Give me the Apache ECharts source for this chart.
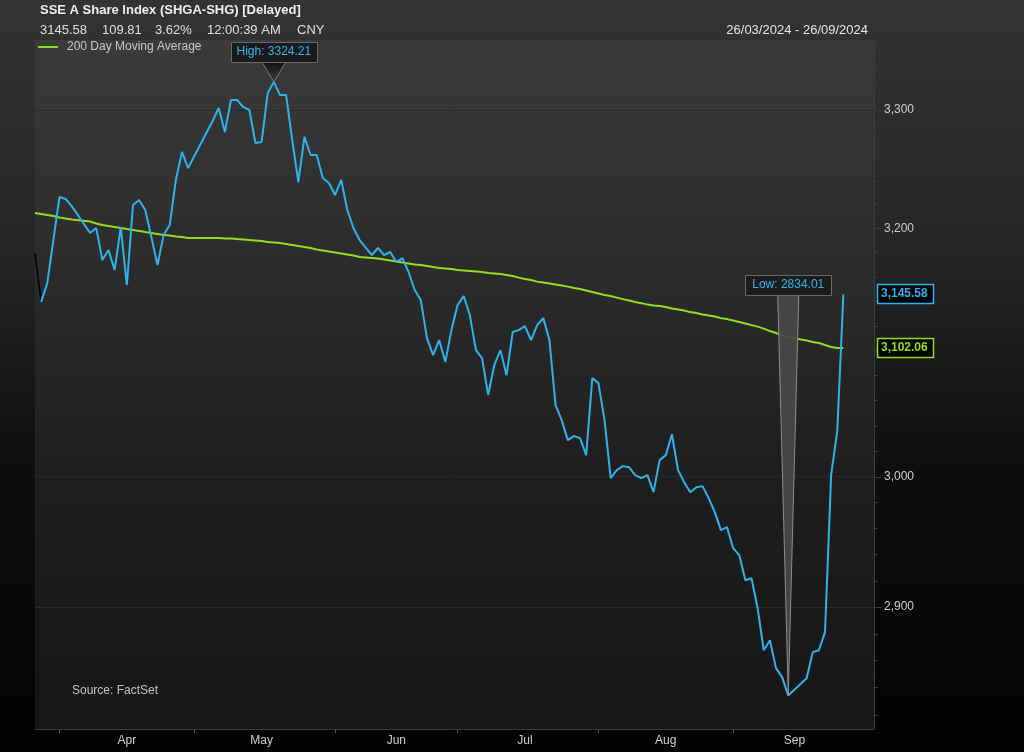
<!DOCTYPE html>
<html><head><meta charset="utf-8">
<script src="https://cdn.jsdelivr.net/npm/echarts@6/dist/echarts.min.js"></script>
<style>html,body{margin:0;padding:0;background:#000}#c{width:1024px;height:752px}</style>
</head><body><div id="c"></div>
<script>
// ---- data ----
const startDate = '2024-03-26', endDate = '2024-10-03';
// SSE A Share Index closes, one per weekday from 26/03 (null = market holiday)
const indexValues = [
null,3139.3,3154.8,3190.3,3226.2,3224.5,3218.6,null,null,3196.1,
3200.3,3173.8,3182.0,3165.5,3201.1,3153.2,3219.5,3223.7,3215.3,3192.8,
3169.6,3194.5,3202.8,3240.5,3264.2,3250.6,null,null,null,3290.6,
3301.7,3281.2,3308.6,3308.6,3302.6,3300.0,3271.8,3272.7,3314.6,3324.21,
3312.9,3312.9,3274.4,3238.8,3277.0,3261.6,3261.6,3242.2,3237.9,3227.9,
3240.5,3215.3,3200.3,3190.3,null,3177.9,3183.7,3177.9,3180.4,3172.1,
3175.4,3163.9,3149.1,3140.9,3110.0,3096.3,3108.4,3090.7,3116.5,3136.8,
3144.2,3128.7,3100.3,3093.9,3064.3,3088.3,3100.3,3080.2,3114.9,3116.5,
3119.7,3108.4,3120.6,3126.2,3108.4,3056.3,3044.4,3028.6,3031.8,3030.2,
3016.8,3077.8,3073.8,3044.4,2998.8,3005.1,3008.2,3007.4,3001.2,2998.8,
3001.2,2987.9,3012.9,3016.8,3033.3,3005.1,2995.7,2987.9,2991.8,2992.6,
2983.3,2972.4,2958.6,2960.9,2944.7,2939.4,2920.3,2921.8,2899.1,2867.6,
2875.1,2854.3,2847.6,2834.01,null,null,2846.8,2866.2,2867.6,2881.1,
3001.2,3035.77,3145.58
];
// 200 day moving average
const maValues = [
3212.8,3212.0,3211.1,3210.3,3209.1,3208.2,3207.4,null,null,3205.7,
3204.0,3202.8,3201.9,3201.1,3200.3,3199.4,3198.6,3197.8,3196.9,3196.1,
3195.3,3194.5,3194.1,3193.2,3192.8,3192.0,null,null,null,3192.0,
3192.0,3191.6,3191.6,3191.1,3190.7,3190.3,3189.9,3189.5,3188.6,3188.2,
3187.8,3187.0,3186.2,3185.3,3184.5,3183.7,3182.4,3181.6,3180.8,3180.0,
3179.1,3178.3,3177.5,3176.2,null,3175.4,3175.0,3174.2,3173.3,3172.5,
3171.7,3170.9,3170.1,3169.6,3168.8,3168.0,3167.2,3166.7,3166.3,3165.5,
3165.1,3164.7,3164.3,3163.9,3163.0,3162.6,3162.2,3161.4,3160.6,3159.3,
3158.1,3157.3,3156.0,3155.2,3154.4,3153.6,3152.8,3151.9,3150.7,3149.9,
3148.7,3147.5,3146.2,3145.0,3144.2,3142.9,3141.7,3140.5,3139.3,3138.4,
3137.2,3136.4,3136.0,3135.2,3134.0,3133.2,3132.4,3131.1,3130.3,3129.1,
3128.3,3127.5,3126.2,3125.4,3124.2,3123.0,3121.8,3120.5,3119.3,3117.7,
3115.7,3114.1,3112.0,3110.8,null,null,3108.0,3106.8,3106.0,3104.4,
3102.8,3102.0,3102.06
];
// clipped segment before the range (drawn black)
const priorValues = [3179.5, 3139.3];
const yMajorTicks = [2900, 3000, 3100, 3200, 3300];
const yMinorTicks = [2820,2840,2860,2880,2900,2920,2940,2960,2980,3000,3020,3040,3060,3080,3100,3120,3140,3160,3180,3200,3220,3240,3260,3280,3300,3320,3340,3360];
const monthLabelDays = {'2024-04-16':'Apr','2024-05-16':'May','2024-06-17':'Jun','2024-07-16':'Jul','2024-08-16':'Aug','2024-09-16':'Sep'};
const monthTickDays = ['2024-04-01','2024-05-01','2024-06-03','2024-07-01','2024-08-01','2024-09-02'];
const titleText = 'SSE A Share Index (SHGA-SHG) [Delayed]';
const quoteItems = ['3145.58','109.81','3.62%','12:00:39 AM','CNY'];
const dateRangeText = '26/03/2024 - 26/09/2024';
const legendText = '200 Day Moving Average';
const sourceText = 'Source: FactSet';

function weekdays(a, b) {
  const out = []; let d = new Date(a + 'T00:00:00Z'); const e = new Date(b + 'T00:00:00Z');
  while (d <= e) { const w = d.getUTCDay(); if (w !== 0 && w !== 6) out.push(d.toISOString().slice(0, 10)); d = new Date(d.getTime() + 86400000); }
  return out;
}
const categories = weekdays(startDate, endDate);

// ---- style ----
const FONT = '"Liberation Sans", Arial, sans-serif';
const BLUE = '#2db3ea', GREEN = '#93dd1f';
const G = {left: 35, right: 150, top: 40, bottom: 23};
const plotRight = 1024 - G.right;

const chart = echarts.init(document.getElementById('c'), null, {renderer: 'canvas'});
chart.setOption({
  animation: false,
  backgroundColor: {type: 'linear', x: 0, y: 0, x2: 0, y2: 1, colorStops: [
    {offset: 0, color: '#333333'}, {offset: 0.33, color: '#262626'}, {offset: 0.6, color: '#0f0f0f'}, {offset: 1, color: '#020202'}]},
  grid: {left: G.left, right: G.right, top: G.top, bottom: G.bottom, show: true, borderWidth: 0,
    backgroundColor: {type: 'linear', x: 0, y: 0, x2: 0, y2: 1, colorStops: [
      {offset: 0, color: '#3a3a3a'}, {offset: 0.3, color: '#2d2d2d'}, {offset: 0.64, color: '#1e1e1e'}, {offset: 1, color: '#161616'}]}},
  xAxis: {
    type: 'category', data: categories, boundaryGap: false,
    axisLine: {show: true, lineStyle: {color: '#3a3a3a', width: 1}},
    axisTick: {show: true, length: 4, lineStyle: {color: '#555'}, interval: (i, v) => monthTickDays.indexOf(v) >= 0},
    axisLabel: {color: '#cfcfcf', fontSize: 12, fontFamily: FONT, margin: 6,
      interval: (i, v) => !!monthLabelDays[v], formatter: v => monthLabelDays[v] || ''},
    splitLine: {show: false}
  },
  yAxis: {
    type: 'log', logBase: 10, position: 'right', min: 2809.5, max: 3360.6,
    axisLine: {show: true, lineStyle: {color: '#3d3d3d'}},
    axisTick: {show: false}, axisLabel: {show: false}, splitLine: {show: false}
  },
  series: [
    {type: 'line', name: 'grid', data: [], z: 1, silent: true,
      markLine: {silent: true, z: 1, symbol: ['none', 'none'], label: {show: false},
        lineStyle: {color: '#2a2a2a', width: 1, type: 'solid'},
        data: yMajorTicks.map(v => ({yAxis: v}))}},
    {type: 'line', name: 'SSE A Share Index', data: indexValues, connectNulls: true, showSymbol: false, z: 4,
      lineStyle: {color: BLUE, width: 2}, itemStyle: {color: BLUE}},
    {type: 'line', name: legendText, data: maValues, connectNulls: true, showSymbol: false, z: 3,
      lineStyle: {color: GREEN, width: 2}, itemStyle: {color: GREEN}},
    {type: 'line', name: 'prior', data: priorValues, showSymbol: false, z: 3,
      lineStyle: {color: '#000', width: 1.5}}
  ]
});

function fmt(v) { const p = v.toFixed(2).split('.'); return p[0].replace(/\B(?=(\d{3})+(?!\d))/g, ',') + '.' + p[1]; }
function fmtInt(v) { return String(v).replace(/\B(?=(\d{3})+(?!\d))/g, ','); }
function px(i, v) { return chart.convertToPixel({xAxisIndex: 0, yAxisIndex: 0}, [i, v]); }
function txt(text, x, y, o) {
  o = o || {};
  return {type: 'text', z: o.z || 200, silent: true, style: {text, x, y, fill: o.fill || '#d6d6d6',
    font: (o.bold ? 'bold ' : '') + (o.size || 12) + 'px ' + FONT,
    textAlign: o.align || 'left', align: o.align || 'left', textVerticalAlign: 'middle', verticalAlign: 'middle'}};
}

const els = [];
// header
els.push(txt(titleText, 40, 10, {bold: true, size: 13, fill: '#f0f0f0'}));
const quoteX = [40, 102, 155, 207, 297];
quoteItems.forEach((t, k) => els.push(txt(t, quoteX[k], 30, {size: 13, fill: '#e0e0e0'})));
els.push(txt(dateRangeText, 868, 30, {size: 13, fill: '#e6e6e6', align: 'right'}));
// legend
els.push({type: 'line', z: 100, silent: true, shape: {x1: 38, y1: 47, x2: 58, y2: 47}, style: {stroke: GREEN, lineWidth: 2}});
els.push(txt(legendText, 67, 47, {fill: '#c8c8c8'}));
// source
els.push(txt(sourceText, 72, 691, {fill: '#c4c4c4'}));
// y axis ticks and labels (below the value tags)
yMinorTicks.forEach(v => { const y = Math.round(px(0, v)[1]) + 0.5;
  els.push({type: 'line', z: 90, silent: true, shape: {x1: plotRight, y1: y, x2: plotRight + 4, y2: y}, style: {stroke: '#3c3c3c', lineWidth: 1}}); });
yMajorTicks.forEach(v => { const y = px(0, v)[1];
  els.push({type: 'line', z: 90, silent: true, shape: {x1: plotRight, y1: Math.round(y) + 0.5, x2: plotRight + 7, y2: Math.round(y) + 0.5}, style: {stroke: '#3c3c3c', lineWidth: 1}});
  els.push(txt(fmtInt(v), plotRight + 10, y, {fill: '#cfcfcf', z: 95})); });
// last value tags
function lastIdx(arr) { for (let i = arr.length - 1; i >= 0; i--) if (arr[i] != null) return i; }
[[indexValues, BLUE], [maValues, GREEN]].forEach(([arr, col]) => {
  const i = lastIdx(arr), v = arr[i], y = px(i, v)[1];
  els.push({type: 'rect', z: 150, silent: true, shape: {x: plotRight + 3.5, y: Math.round(y) - 9.5, width: 56, height: 19}, style: {fill: '#000', stroke: col, lineWidth: 1.5}});
  els.push(txt(fmt(v), plotRight + 7, Math.round(y), {bold: true, fill: col}));
});
// high / low callouts
let iMax = 0, iMin = 0;
indexValues.forEach((v, i) => { if (v == null) return; if (indexValues[iMax] == null || v > indexValues[iMax]) iMax = i; if (indexValues[iMin] == null || v < indexValues[iMin]) iMin = i; });
(function () {
  const p = px(iMax, indexValues[iMax]); const bw = 86, bh = 20, bb = p[1] - 20;
  els.push({type: 'polygon', z: 105, silent: true, shape: {points: [[p[0] - 12, bb], [p[0] + 12, bb], [p[0], p[1]]]},
    style: {fill: {type: 'linear', x: 0, y: 0, x2: 0, y2: 1, colorStops: [{offset: 0, color: '#111'}, {offset: 1, color: '#3a3a3a'}]}, stroke: '#777', lineWidth: 1}});
  els.push({type: 'rect', z: 106, silent: true, shape: {x: Math.round(p[0] - bw / 2) + 0.5, y: Math.round(bb - bh) + 0.5, width: bw, height: bh}, style: {fill: '#1a1a1a', stroke: '#6a6a6a', lineWidth: 1}});
  els.push(txt('High: ' + indexValues[iMax].toFixed(2), p[0], bb - bh / 2, {fill: '#33b5ee', align: 'center'}));
})();
(function () {
  const p = px(iMin, indexValues[iMin]); const bw = 86, bh = 20, bt = 275, bb = bt + bh;
  els.push({type: 'polygon', z: 105, silent: true, shape: {points: [[p[0] - 10.5, bb], [p[0] + 10.5, bb], [p[0], p[1]]]},
    style: {fill: 'rgba(72,72,72,0.92)', stroke: '#8c8c8c', lineWidth: 1}});
  els.push({type: 'rect', z: 106, silent: true, shape: {x: Math.round(p[0] - bw / 2) + 0.5, y: bt + 0.5, width: bw, height: bh}, style: {fill: '#1c1c1c', stroke: '#6a6a6a', lineWidth: 1}});
  els.push(txt('Low: ' + indexValues[iMin].toFixed(2), p[0], bt + bh / 2, {fill: '#33b5ee', align: 'center'}));
})();
chart.setOption({graphic: {elements: els}});
</script></body></html>
